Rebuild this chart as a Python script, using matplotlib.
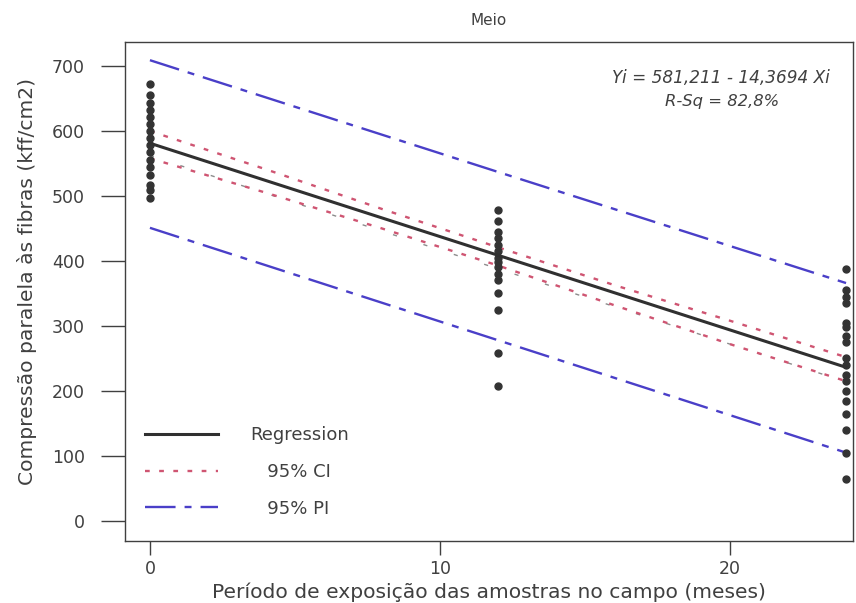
import matplotlib
matplotlib.use("Agg")
import matplotlib.pyplot as plt
from matplotlib.lines import Line2D

# ---------------- data ----------------
months = [0, 12, 24]
group0 = [672, 655, 643, 632, 622, 611, 600, 589, 578, 568, 555, 545, 532, 517, 509, 497]
group12 = [478, 462, 445, 435, 425, 415, 405, 398, 390, 380, 370, 350, 325, 258, 208]
group24 = [388, 355, 345, 335, 305, 298, 285, 275, 250, 240, 225, 215, 200, 185, 165, 140, 105, 65]

intercept = 581.211
slope = -14.3694
fit_x = [0, 24]

ci_x = [0, 4, 8, 12, 16, 20, 24]
ci_upper = [600, 541, 480, 421, 363, 308, 252]
ci_lower = [558, 505, 450, 393, 332, 272, 215]

pi_x = [0, 12, 24]
pi_upper = [709, 537, 366]
pi_lower = [451, 278, 105]

grey_x = [0, 24]
grey_y = [562, 214]

title = "Meio"
xlabel = "Período de exposição das amostras no campo (meses)"
ylabel = "Compressão paralela às fibras (kff/cm2)"
xticks = [0, 10, 20]
yticks = [0, 100, 200, 300, 400, 500, 600, 700]
eq_text = "Yi = 581,211 - 14,3694 Xi"
rsq_text = "R-Sq = 82,8%"
legend_labels = ["Regression", "   95% CI", "   95% PI"]

# ---------------- style ----------------
plt.rcParams["font.family"] = ["DejaVu Sans"]
plt.rcParams["lines.scale_dashes"] = False
txt = "#404040"
frame = "#404040"
c_reg = "#303030"
c_ci = "#cf5572"
c_pi = "#4a3fc8"
c_pts = "#333333"

fig = plt.figure(figsize=(8.56, 6.03), dpi=100)
ax = fig.add_axes([125 / 856, 1 - 541 / 603, (853 - 125) / 856, (541 - 42) / 603])

# points
for m, vals in zip(months, [group0, group12, group24]):
    ax.plot([m] * len(vals), vals, "o", color=c_pts, ms=5.0, mec=c_pts, zorder=4)

# regression
fit_y = [intercept + slope * x for x in fit_x]
ax.plot(fit_x, fit_y, color=c_reg, lw=2.2, zorder=5)

# grey thin dashed line
ax.plot(grey_x, grey_y, color="#8c8c8c", lw=1.0, dashes=(3, 20), zorder=3)

# CI
ci_style = dict(color=c_ci, lw=1.7, dashes=(3.4, 6.8), zorder=3)
ax.plot(ci_x, ci_upper, **ci_style)
ax.plot(ci_x, ci_lower, **ci_style)

# PI
pi_style = dict(color=c_pi, lw=1.7, dashes=(22, 6.5, 5, 6.5), zorder=3)
ax.plot(pi_x, pi_upper, **pi_style)
ax.plot(pi_x, pi_lower, **pi_style)

ax.set_xlim(-0.86, 24.24)
ax.set_ylim(-31, 737)
ax.set_xticks(xticks)
ax.set_yticks(yticks)
ax.tick_params(axis="both", direction="out", colors=txt, labelsize=12.5, width=1.0)
ax.tick_params(axis="y", length=17, pad=12)
ax.tick_params(axis="x", length=10, pad=4)
for s in ax.spines.values():
    s.set_color(frame)
    s.set_linewidth(1.0)

ax.set_title(title, fontsize=11, color=txt, pad=12)
ax.set_xlabel(xlabel, fontsize=14.6, color=txt)
ax.set_ylabel(ylabel, fontsize=14.6, color=txt)
ax.xaxis.set_label_coords(0.5, -0.084)
ax.yaxis.set_label_coords(-0.121, 0.52)

ax.text(0.818, 0.928, eq_text, transform=ax.transAxes, ha="center", va="center",
        fontsize=12.2, style="italic", color=txt)
ax.text(0.82, 0.880, rsq_text, transform=ax.transAxes, ha="center", va="center",
        fontsize=11.8, style="italic", color=txt)

handles = [Line2D([], [], color=c_reg, lw=2.2),
           Line2D([], [], color=c_ci, lw=1.7, dashes=(3.4, 6.8)),
           Line2D([], [], color=c_pi, lw=1.7, dashes=(22, 6.5, 5, 6.5))]
leg = ax.legend(handles, legend_labels, loc="lower left", bbox_to_anchor=(0.0176, 0.032),
                frameon=False, fontsize=13, handlelength=4.05, handletextpad=1.78,
                labelspacing=1.05, borderaxespad=0)
for t in leg.get_texts():
    t.set_color(txt)

fig.savefig("out.png", dpi=100)
